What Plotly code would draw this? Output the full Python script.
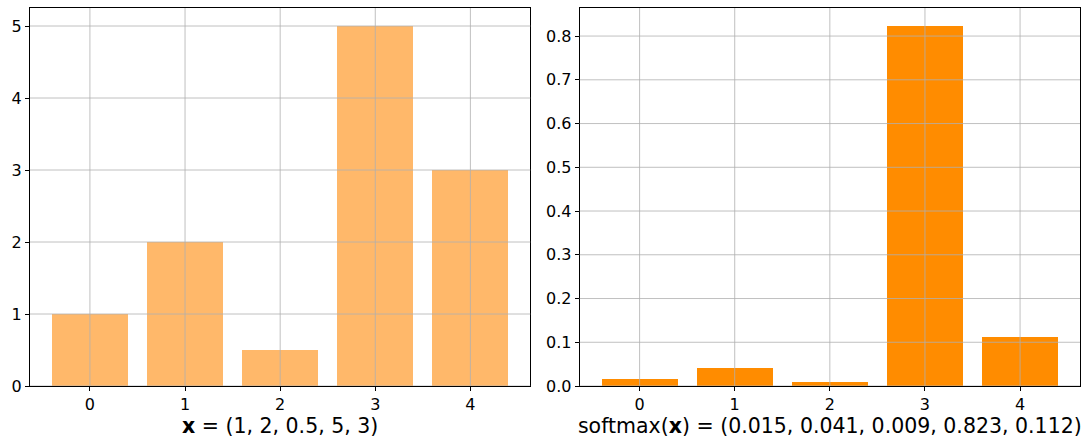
import plotly.graph_objects as go
from plotly.subplots import make_subplots

# Input vector and its softmax
categories = [0, 1, 2, 3, 4]
x_values = [1, 2, 0.5, 5, 3]
softmax_values = [0.015, 0.041, 0.009, 0.823, 0.112]

left_yticks = [0, 1, 2, 3, 4, 5]
right_yticks = [0.0, 0.1, 0.2, 0.3, 0.4, 0.5, 0.6, 0.7, 0.8]
right_ytick_text = ["0.0", "0.1", "0.2", "0.3", "0.4", "0.5", "0.6", "0.7", "0.8"]

FONT = "DejaVu Sans"
GRID = "#b0b0b0"

fig = make_subplots(rows=1, cols=2, horizontal_spacing=0.047)

fig.add_trace(go.Bar(x=categories, y=x_values, width=0.8,
                     marker=dict(color="#ffb86a", line=dict(width=0)),
                     showlegend=False), row=1, col=1)
fig.add_trace(go.Bar(x=categories, y=softmax_values, width=0.8,
                     marker=dict(color="#ff8c00", line=dict(width=0)),
                     showlegend=False), row=1, col=2)

xrange = [-0.63, 4.63]
axis_common = dict(showline=True, linecolor="black", linewidth=1, mirror=True,
                   ticks="outside", ticklen=4, tickwidth=1, tickcolor="black",
                   showgrid=False, zeroline=False,
                   tickfont=dict(family=FONT, size=16, color="black"))

fig.update_xaxes(range=xrange, tickvals=categories, **axis_common)
fig.update_xaxes(title=dict(text="<b>x</b> = (1, 2, 0.5, 5, 3)",
                            font=dict(family=FONT, size=20.5, color="black"),
                            standoff=2), row=1, col=1)
fig.update_xaxes(title=dict(text="softmax(<b>x</b>) = (0.015, 0.041, 0.009, 0.823, 0.112)",
                            font=dict(family=FONT, size=20.5, color="black"),
                            standoff=2), row=1, col=2)

fig.update_yaxes(range=[0, max(x_values) * 1.05], tickvals=left_yticks,
                 row=1, col=1, **axis_common)
fig.update_yaxes(range=[0, max(softmax_values) * 1.05], tickvals=right_yticks,
                 ticktext=right_ytick_text, row=1, col=2, **axis_common)

# Grid drawn above the bars
for xref, yref, yticks in (("x", "y", left_yticks), ("x2", "y2", right_yticks)):
    for v in categories:
        fig.add_shape(type="line", xref=xref, yref=f"{yref} domain",
                      x0=v, x1=v, y0=0, y1=1, layer="above",
                      line=dict(color=GRID, width=0.8))
    for v in yticks:
        fig.add_shape(type="line", xref=f"{xref} domain", yref=yref,
                      x0=0, x1=1, y0=v, y1=v, layer="above",
                      line=dict(color=GRID, width=0.8))

fig.update_layout(width=1085, height=439,
                  margin=dict(l=30, r=5, t=8, b=53),
                  plot_bgcolor="white", paper_bgcolor="white",
                  bargap=0, font=dict(family=FONT, color="black"))

fig.write_html("out.html")
